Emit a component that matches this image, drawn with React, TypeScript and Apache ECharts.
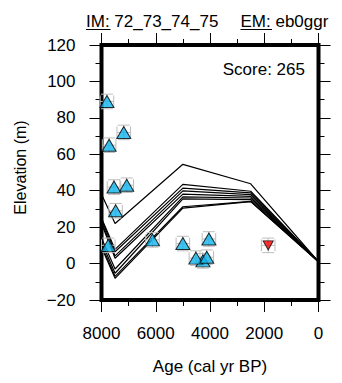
import React, { useEffect, useRef } from "react";
import * as echarts from "echarts";

// Observed sea-level index points: [age, elevation, ageErr, elevErr]
const indexPoints: number[][] = [
  [7800, 89, 250, 4],
  [7720, 65, 250, 4],
  [7180, 72, 250, 4],
  [7540, 42, 250, 4],
  [7070, 43, 250, 4],
  [7480, 29, 250, 4],
  [7750, 10, 250, 4],
  [6120, 13, 250, 4],
  [5000, 11, 250, 4],
  [4040, 13.5, 250, 4],
  [4260, 1.5, 250, 4],
  [4520, 3, 250, 4],
  [4120, 3.5, 250, 4],
];
// Limiting point (inverted red triangle)
const limitPoints: number[][] = [[1855, 10, 250, 4]];

// Model curves: ages and elevations
const modelAges = [8000, 7500, 5000, 2500, 0];
const modelCurves: number[][] = [
  [38, 22, 54.5, 43.8, 1],
  [25, 7.8, 43.5, 39.7, 1],
  [24, 6.5, 41.4, 38.8, 1],
  [23, 4.2, 39.9, 37.9, 1],
  [22, 2.9, 38.1, 36.9, 1],
  [14, -3, 36.6, 36, 1],
  [12, -5.3, 35.5, 35.1, 1],
  [10, -7, 31.2, 34.2, 1],
  [9, -8.1, 30.4, 34, 1],
];

const titleIM = "72_73_74_75";
const titleEM = "eb0ggr";
const scoreText = "Score: 265";
const xName = "Age (cal yr BP)";
const yName = "Elevation (m)";

const FONT = "Liberation Sans, Arial, Helvetica, sans-serif";

export default function App() {
  const ref = useRef<HTMLDivElement>(null);
  useEffect(() => {
    if (!ref.current) return;
    const chart = echarts.init(ref.current, undefined, { renderer: "svg" });

    const errRender = (params: any, api: any) => {
      const x = api.value(0);
      const y = api.value(1);
      const xe = api.value(2);
      const ye = api.value(3);
      const c = api.coord([x, y]);
      const l = api.coord([x - xe, y]);
      const r = api.coord([x + xe, y]);
      const t = api.coord([x, y + ye]);
      const b = api.coord([x, y - ye]);
      const cap = 6;
      const style = { stroke: "#bdbdbd", lineWidth: 1 };
      const ln = (x1: number, y1: number, x2: number, y2: number) => ({
        type: "line",
        shape: { x1, y1, x2, y2 },
        style,
      });
      return {
        type: "group",
        children: [
          ln(l[0], c[1], r[0], c[1]),
          ln(l[0], c[1] - cap, l[0], c[1] + cap),
          ln(r[0], c[1] - cap, r[0], c[1] + cap),
          ln(c[0], t[1], c[0], b[1]),
          ln(c[0] - cap, t[1], c[0] + cap, t[1]),
          ln(c[0] - cap, b[1], c[0] + cap, b[1]),
        ],
      };
    };

    const xAxisBase = {
      type: "value",
      min: 0,
      max: 8000,
      interval: 2000,
      inverse: true,
      axisLine: { show: false, onZero: false },
      axisTick: { show: true, length: 12, lineStyle: { color: "#000", width: 1 } },
      minorTick: { show: true, splitNumber: 2, length: 6, lineStyle: { color: "#000", width: 1 } },
      splitLine: { show: false },
      minorSplitLine: { show: false },
    };
    const yAxisBase = {
      type: "value",
      min: -20,
      max: 120,
      interval: 20,
      axisLine: { show: false, onZero: false },
      axisTick: { show: true, length: 12, lineStyle: { color: "#000", width: 1 } },
      minorTick: { show: true, splitNumber: 2, length: 6, lineStyle: { color: "#000", width: 1 } },
      splitLine: { show: false },
      minorSplitLine: { show: false },
    };

    const series: any[] = modelCurves.map((vals, i) => ({
      type: "line",
      name: "model" + i,
      data: modelAges.map((a, j) => [a, vals[j]]),
      symbol: "none",
      lineStyle: { color: "#000", width: 1.2 },
      z: 2,
    }));
    series.push({
      type: "custom",
      data: indexPoints.concat(limitPoints),
      renderItem: errRender,
      z: 3,
    });
    series.push({
      type: "scatter",
      data: indexPoints.map((p) => [p[0], p[1]]),
      symbol: "triangle",
      symbolSize: [14, 12],
      itemStyle: { color: "#0fb4ec", borderColor: "#000", borderWidth: 1 },
      z: 4,
    });
    series.push({
      type: "scatter",
      data: limitPoints.map((p) => [p[0], p[1]]),
      symbol: "triangle",
      symbolRotate: 180,
      symbolSize: [10, 9],
      itemStyle: { color: "#ff0000", borderColor: "#000", borderWidth: 1 },
      z: 4,
    });

    chart.setOption({
      animation: false,
      backgroundColor: "#fff",
      grid: {
        left: 101.5,
        right: 23.5,
        top: 45,
        bottom: 83,
        show: true,
        borderWidth: 4,
        borderColor: "#000",
        backgroundColor: "transparent",
      },
      xAxis: [
        {
          ...xAxisBase,
          position: "bottom",
          axisLabel: {
            show: true,
            margin: 25,
            fontSize: 17,
            color: "#000",
            fontFamily: FONT,
            formatter: (v: number) => String(v),
          },
        },
        {
          ...xAxisBase,
          position: "top",
          axisLabel: { show: false },
        },
      ],
      yAxis: [
        {
          ...yAxisBase,
          position: "left",
          axisLabel: {
            show: true,
            margin: 26,
            fontSize: 17,
            color: "#000",
            fontFamily: FONT,
            formatter: (v: number) => (v < 0 ? "\u2212" + Math.abs(v) : String(v)),
          },
        },
        {
          ...yAxisBase,
          position: "right",
          axisLabel: { show: false },
        },
      ],
      series,
      graphic: [
        {
          type: "text",
          x: 86,
          y: 21.7,
          style: {
            text: "IM: " + titleIM,
            font: "17px " + FONT,
            fill: "#000",
            align: "left",
            verticalAlign: "middle",
          },
        },
        { type: "line", shape: { x1: 86, y1: 29.5, x2: 110.5, y2: 29.5 }, style: { stroke: "#000", lineWidth: 1 } },
        {
          type: "text",
          x: 240.5,
          y: 21.7,
          style: {
            text: "EM: " + titleEM,
            font: "17px " + FONT,
            fill: "#000",
            align: "left",
            verticalAlign: "middle",
          },
        },
        { type: "line", shape: { x1: 240.5, y1: 29.5, x2: 272, y2: 29.5 }, style: { stroke: "#000", lineWidth: 1 } },
        {
          type: "text",
          x: 305,
          y: 69,
          style: {
            text: scoreText,
            font: "17px " + FONT,
            fill: "#000",
            align: "right",
            verticalAlign: "middle",
          },
        },
        {
          type: "text",
          x: 210,
          y: 366,
          style: {
            text: xName,
            font: "17px " + FONT,
            fill: "#000",
            align: "center",
            verticalAlign: "middle",
          },
        },
        {
          type: "text",
          x: 20,
          y: 167.5,
          rotation: Math.PI / 2,
          style: {
            text: yName,
            font: "16px " + FONT,
            fill: "#000",
            align: "center",
            verticalAlign: "middle",
          },
        },
      ],
    });
    return () => chart.dispose();
  }, []);
  return <div ref={ref} style={{ width: 342, height: 383, position: "absolute", left: 0, top: 0 }} />;
}
